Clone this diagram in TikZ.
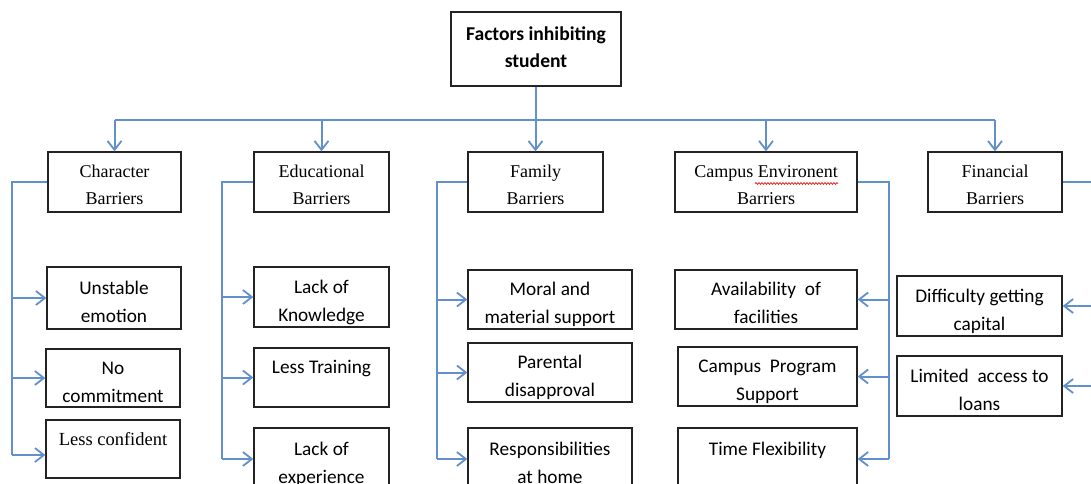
\documentclass[tikz,border=0pt]{standalone}
\usepackage{fontspec}
\newfontfamily\calfont{Carlito}
\newfontfamily\timesfont{Liberation Serif}
\usetikzlibrary{arrows.meta,decorations.pathmorphing}
\definecolor{linkblue}{RGB}{98,144,205}
\definecolor{boxline}{RGB}{35,35,35}
\definecolor{spellred}{RGB}{230,40,40}

% two-line box text with fixed first-line height and last-line depth
\newcommand{\twoline}[4][24pt]{\rule{0pt}{#1}#2\\#3\rule[-#4]{0pt}{#4}}

\begin{document}
\begin{tikzpicture}[x=1pt,y=-1pt,
  box/.style={draw=boxline, line width=1.3pt, align=center, inner sep=0pt,
              minimum height=60pt, text=black},
  rootbox/.style={box, font=\calfont\bfseries\fontsize{19.6}{27}\selectfont},
  topbox/.style={box, font=\timesfont\fontsize{18}{27}\selectfont},
  leafbox/.style={box, font=\calfont\fontsize{19.3}{28}\selectfont},
  serifleaf/.style={box, font=\timesfont\fontsize{18.5}{28}\selectfont},
  link/.style={draw=linkblue, line width=2pt},
  spine/.style={draw=linkblue, line width=2.8pt},
  arr/.style={link, -{Straight Barb[length=9pt,width=14pt,line width=1.8pt]}},
  squiggle/.style={draw=spellred, line width=0.8pt,
                   decorate, decoration={snake, amplitude=0.9pt, segment length=3pt}},
]
\useasboundingbox (0,0) rectangle (1091,483);
\clip (0,0) rectangle (1091,483);
\fill[white] (0,0) rectangle (1091,483);

% root
\node[rootbox, minimum width=170pt, minimum height=74pt] (root) at (536,49)
  {\twoline[16pt]{Factors inhibiting}{student}{6pt}};

% first level
\node[topbox, minimum width=133pt] (char) at (114.5,182) {\twoline[22pt]{Character}{Barriers}{4pt}};
\node[topbox, minimum width=135pt] (edu)  at (321.5,182) {\twoline[22pt]{Educational}{Barriers}{4pt}};
\node[topbox, minimum width=135pt] (fam)  at (535.5,182) {\twoline[22pt]{Family}{Barriers}{4pt}};
\node[topbox, minimum width=182pt] (camp) at (766,182) {\twoline[22pt]{Campus Environent}{Barriers}{4pt}};
\node[topbox, minimum width=134pt] (fin)  at (995,182) {\twoline[22pt]{Financial}{Barriers}{4pt}};

% spell-check squiggle under the misspelt word
\draw[squiggle] ([xshift=-11pt,yshift=-1.5pt]camp.center) -- ([xshift=72pt,yshift=-1.5pt]camp.center);

% character barriers
\node[leafbox, minimum width=134pt, minimum height=62pt] (c1) at (114,298) {\twoline{Unstable}{emotion}{4pt}};
\node[leafbox, minimum width=134pt, minimum height=58pt] (c2) at (113,378) {\twoline{No}{commitment}{4pt}};
\node[serifleaf, minimum width=134pt, minimum height=58pt] (c3) at (113,449) {\twoline{Less confident}{}{4pt}};

% educational barriers
\node[leafbox, minimum width=135pt] (e1) at (321.5,297) {\twoline{Lack of}{Knowledge}{4pt}};
\node[leafbox, minimum width=135pt, minimum height=59pt] (e2) at (321.5,377.5) {\twoline{Less Training}{}{4pt}};
\node[leafbox, minimum width=135pt, minimum height=62pt] (e3) at (321.5,459) {\twoline{Lack of}{experience}{4pt}};

% family barriers
\node[leafbox, minimum width=164pt, minimum height=59pt] (f1) at (550,299.5) {\twoline{Moral and}{material support}{4pt}};
\node[leafbox, minimum width=164pt, minimum height=59pt] (f2) at (550,372.5) {\twoline{Parental}{disapproval}{4pt}};
\node[leafbox, minimum width=164pt, minimum height=62pt] (f3) at (550,459) {\twoline{Responsibilities}{at home}{4pt}};

% campus environment barriers
\node[leafbox, minimum width=182pt, minimum height=59pt] (p1) at (766,299.5) {\twoline{Availability\ \ of}{facilities}{4pt}};
\node[leafbox, minimum width=179pt, minimum height=59pt] (p2) at (767.5,376.5) {\twoline{Campus\ \ Program}{Support}{4pt}};
\node[leafbox, minimum width=179pt, minimum height=62pt] (p3) at (767.5,459) {\twoline{Time Flexibility}{}{4pt}};

% financial barriers
\node[leafbox, minimum width=165pt] (n1) at (979.5,306) {\twoline{Difficulty getting}{capital}{4pt}};
\node[leafbox, minimum width=165pt] (n2) at (979.5,386) {\twoline{Limited\ \ access to}{loans}{4pt}};

% root to first level
\coordinate (bus) at (0,120);
\draw[spine] (root.south) -- (root.south |- bus);
\draw[link] (char.north |- bus) -- (fin.north |- bus);
\foreach \n in {char,edu,fam,camp,fin}
  \draw[arr] (\n.north |- bus) -- (\n.north);

% character spine
\coordinate (cs) at (12,455);
\draw[spine] (char.west) -| (cs);
\draw[arr] (cs |- c1.west) -- (c1.west);
\draw[arr] (cs |- c2.west) -- (c2.west);
\draw[arr] (cs) -- (cs -| c3.west);

% educational spine
\coordinate (es) at (222,0);
\draw[spine] (edu.west) -| (es |- e3.west);
\foreach \n in {e1,e2,e3}
  \draw[arr] (es |- \n.west) -- (\n.west);

% family spine
\coordinate (fs) at (437,0);
\draw[spine] (fam.west) -| (fs |- f3.west);
\foreach \n in {f1,f2,f3}
  \draw[arr] (fs |- \n.west) -- (\n.west);

% campus spine
\coordinate (ps) at (889,0);
\draw[spine] (camp.east) -| (ps |- p3.east);
\foreach \n in {p1,p2,p3}
  \draw[arr] (ps |- \n.east) -- (\n.east);

% financial spine
\coordinate (ns) at (1104,0);
\draw[spine] (fin.east) -| (ns |- n2.east);
\foreach \n in {n1,n2}
  \draw[arr] (ns |- \n.east) -- (\n.east);
\end{tikzpicture}
\end{document}
